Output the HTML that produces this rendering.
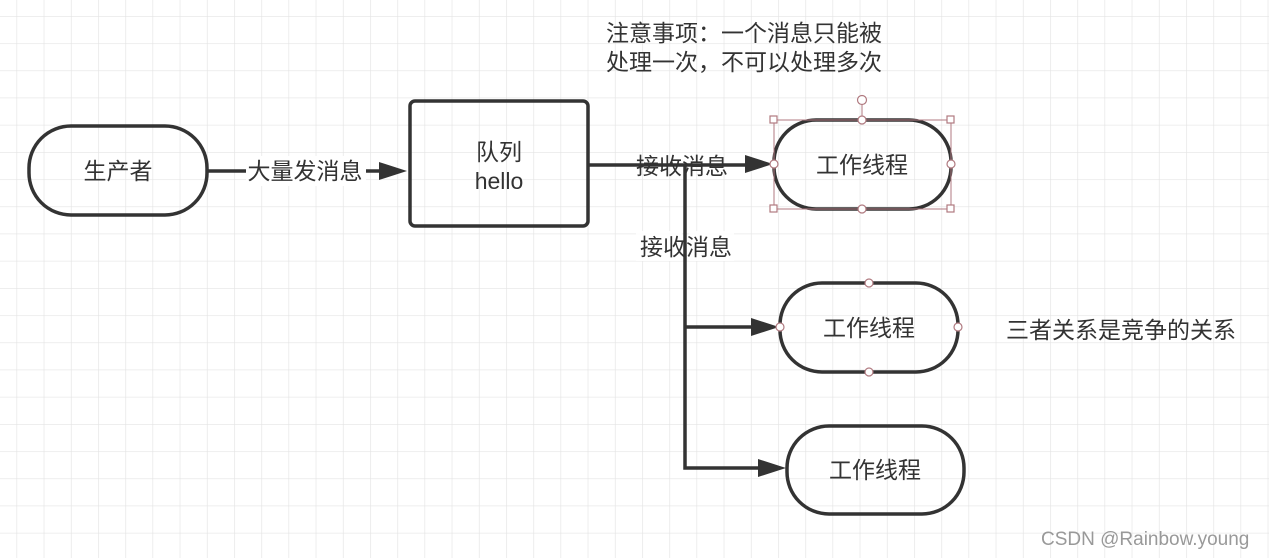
<!DOCTYPE html>
<html><head><meta charset="utf-8"><style>
html,body{margin:0;padding:0;background:#fff}
svg{display:block}
text{font-family:"Liberation Sans","Noto Sans CJK SC",sans-serif;fill:#333}
</style></head><body>
<svg width="1269" height="558" viewBox="0 0 1269 558" xmlns="http://www.w3.org/2000/svg">
<defs>
<pattern id="g" x="16.5" y="16" width="27.2" height="27.2" patternUnits="userSpaceOnUse">
<path d="M0 0H27.2M0 0V27.2" stroke="#e4e4e4" stroke-width="1.3" fill="none"/>
</pattern>
</defs>
<rect width="1269" height="558" fill="#fff"/>
<rect width="1269" height="558" fill="url(#g)"/>
<g fill="none" stroke="#333" stroke-width="3.5">
<rect x="29" y="126" width="178" height="89" rx="42"/>
<rect x="410" y="101" width="178" height="125" rx="5"/>
<rect x="774" y="120" width="177" height="89" rx="42"/>
<rect x="780" y="283" width="178" height="89" rx="42"/>
<rect x="787" y="426" width="177" height="88" rx="42"/>
<path d="M207 171H380"/>
<path d="M588 165H750"/>
<path d="M685 165V468H760"/>
<path d="M685 327H755"/>
</g>
<g fill="#333">
<path d="M407 171l-28 -9v18z"/>
<path d="M773 164l-28 -9v18z"/>
<path d="M779 327l-28 -9v18z"/>
<path d="M786 468l-28 -9v18z"/>
</g>
<rect x="246" y="156" width="120" height="30" fill="#fff"/>
<rect x="636" y="231" width="46" height="30" fill="#fff" opacity="0.9"/>
<rect x="689" y="231" width="45" height="30" fill="#fff" opacity="0.9"/>
<g fill="none" stroke="#b07a80" stroke-width="1">
<rect x="774" y="120" width="177" height="89"/>
<path d="M862 120V101"/>
</g>
<g fill="#fff" stroke="#b07a80" stroke-width="1.2">
<circle cx="862" cy="100" r="4.5"/>
<rect x="770" y="116" width="7" height="7"/><rect x="947" y="116" width="7" height="7"/>
<rect x="770" y="205" width="7" height="7"/><rect x="947" y="205" width="7" height="7"/>
<circle cx="862" cy="120" r="4"/><circle cx="862" cy="209" r="4"/>
<circle cx="774" cy="164" r="4"/><circle cx="951" cy="164" r="4"/>
<circle cx="869" cy="283" r="4"/><circle cx="869" cy="372" r="4"/>
<circle cx="780" cy="327" r="4"/><circle cx="958" cy="327" r="4"/>
</g>
<g font-size="23" text-anchor="middle">
<text x="118" y="179">生产者</text>
<text x="305" y="179">大量发消息</text>
<text x="499" y="160">队列</text>
<text x="499" y="189">hello</text>
<text x="682" y="174">接收消息</text>
<text x="686" y="255">接收消息</text>
<text x="862" y="173">工作线程</text>
<text x="869" y="336">工作线程</text>
<text x="875" y="478">工作线程</text>
</g>
<g font-size="23">
<text x="606" y="41">注意事项：一个消息只能被</text>
<text x="606" y="70">处理一次，不可以处理多次</text>
<text x="1006" y="338">三者关系是竞争的关系</text>
</g>
<text x="1041" y="545" font-size="19" style="fill:#999">CSDN @Rainbow.young</text>
</svg>
</body></html>
